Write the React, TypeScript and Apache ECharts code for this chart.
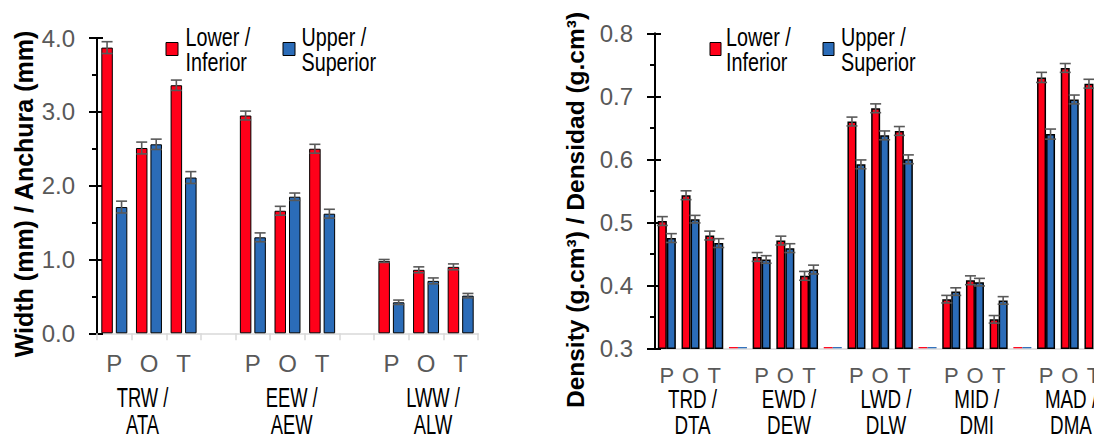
import React, { useEffect, useRef } from "react";
import * as echarts from "echarts";

// ---------- data ----------
const LOWER = "Lower /\nInferior";
const UPPER = "Upper /\nSuperior";

const leftCats = ["P", "O", "T", "", "P", "O", "T", "", "P", "O", "T"];
const leftLower = [3.87, 2.51, 3.36, null, 2.95, 1.66, 2.5, null, 0.98, 0.86, 0.9];
const leftUpper = [1.71, 2.56, 2.11, null, 1.3, 1.85, 1.62, null, 0.42, 0.71, 0.51];
const leftLowerErr = [0.08, 0.08, 0.07, null, 0.06, 0.06, 0.06, null, 0.02, 0.04, 0.04];
const leftUpperErr = [0.08, 0.07, 0.08, null, 0.06, 0.05, 0.06, null, 0.03, 0.04, 0.03];
const leftGroups = ["TRW /\nATA", "EEW /\nAEW", "LWW /\nALW"];
const leftTicks = [0, 1, 2, 3, 4];

const BLANK = "blank";
const blankValue = 0.302;
const rightCats = ["P", "O", "T", "", "P", "O", "T", "", "P", "O", "T", "", "P", "O", "T", "", "P", "O", "T"];
const rightLower = [0.502, 0.543, 0.479, BLANK, 0.445, 0.471, 0.415, BLANK, 0.66, 0.681, 0.645, BLANK, 0.378, 0.408, 0.346, BLANK, 0.73, 0.745, 0.72];
const rightUpper = [0.475, 0.505, 0.467, BLANK, 0.441, 0.459, 0.425, BLANK, 0.592, 0.638, 0.6, BLANK, 0.39, 0.405, 0.376, BLANK, 0.64, 0.695, null];
const rightLowerErr = [0.007, 0.007, 0.007, null, 0.007, 0.007, 0.007, null, 0.007, 0.007, 0.007, null, 0.006, 0.007, 0.006, null, 0.008, 0.007, 0.007];
const rightUpperErr = [0.007, 0.006, 0.007, null, 0.006, 0.007, 0.007, null, 0.007, 0.007, 0.007, null, 0.006, 0.006, 0.006, null, 0.008, 0.007, null];
const rightGroups = ["TRD /\nDTA", "EWD /\nDEW", "LWD /\nDLW", "MID /\nDMI", "MAD /\nDMA"];

// ---------- style ----------
const RED = "#ff0019";
const BLUE = "#2b6cb8";
const GREY = "#595959";
const ERR = "#595959";
const SANS = "'Liberation Sans', Arial, sans-serif";

function errRenderer(offset: number, halfCap: number) {
  return (params: any, api: any) => {
    const i = api.value(0);
    const m = api.value(1);
    const e = api.value(2);
    const top = api.coord([i, m + e]);
    const bot = api.coord([i, m - e]);
    const x = top[0] + offset;
    const style = { stroke: ERR, lineWidth: 1.6 };
    return {
      type: "group",
      children: [
        { type: "line", shape: { x1: x, y1: top[1], x2: x, y2: bot[1] }, style },
        { type: "line", shape: { x1: x - halfCap, y1: top[1], x2: x + halfCap, y2: top[1] }, style },
        { type: "line", shape: { x1: x - halfCap, y1: bot[1], x2: x + halfCap, y2: bot[1] }, style },
      ],
    };
  };
}

function errData(vals: any[], errs: any[]) {
  const out: any[] = [];
  vals.forEach((v, i) => {
    if (typeof v === "number" && typeof errs[i] === "number") out.push([i, v, errs[i]]);
  });
  return out;
}

function rightBarData(vals: any[]) {
  return vals.map((v) =>
    v === BLANK ? { value: blankValue, itemStyle: { borderWidth: 0 } } : v === null ? "-" : v
  );
}

function legendItem(x: number, w: number, textX: number, color: string, text: string) {
  return [
    {
      type: "rect",
      shape: { x, y: 42.5, width: w, height: 13 },
      style: { fill: color, stroke: "#000", lineWidth: 1 },
    },
    {
      type: "text",
      x: textX,
      y: 50,
      scaleX: 0.79,
      style: {
        text,
        fontFamily: SANS,
        fontSize: 25,
        lineHeight: 24.5,
        fill: "#000",
        align: "left",
        verticalAlign: "middle",
      },
    },
  ];
}

export default function App() {
  const ref = useRef<HTMLDivElement>(null);

  useEffect(() => {
    document.body.style.margin = "0";
    document.body.style.overflow = "hidden";
    document.documentElement.style.overflow = "hidden";
    const chart = echarts.init(ref.current!, null, { renderer: "svg" });

    const yMain = (gridIndex: number, min: number, max: number, interval: number) => ({
      type: "value",
      gridIndex,
      position: "left",
      min,
      max,
      interval,
      axisLine: { show: true, lineStyle: { color: "#000", width: 2 } },
      axisTick: { show: true, length: 8, lineStyle: { color: "#000", width: 2 } },
      minorTick: { show: true, splitNumber: 2, length: 5, lineStyle: { color: "#000", width: 2 } },
      splitLine: { show: false },
      axisLabel: {
        color: GREY,
        fontFamily: SANS,
        fontSize: 24,
        margin: 22,
        formatter: (v: number) => v.toFixed(1),
      },
    });
    const yOverlay = (gridIndex: number, min: number, max: number, interval: number) => ({
      type: "value",
      gridIndex,
      position: "left",
      offset: 0,
      min,
      max,
      interval,
      axisLine: { show: false },
      axisTick: { show: true, inside: true, length: 6, lineStyle: { color: "#000", width: 2 } },
      axisLabel: { show: false },
      splitLine: { show: false },
    });

    const leftGroupX = [142.5, 291.7, 433];
    const rightGroupX = [692.5, 789, 886, 976.7, 1071];

    const option: any = {
      animation: false,
      grid: [
        { left: 97, top: 38, width: 381, height: 295.3 },
        { left: 655, top: 33.3, width: 450.3, height: 315 },
      ],
      xAxis: [
        {
          type: "category",
          gridIndex: 0,
          data: leftCats,
          axisLine: { lineStyle: { color: "#d9d9d9", width: 1.5 } },
          axisTick: { show: true, interval: 0, length: 7, lineStyle: { color: "#d9d9d9", width: 1.5 } },
          axisLabel: { interval: 0, color: GREY, fontFamily: SANS, fontSize: 24, margin: 18 },
        },
        {
          type: "category",
          gridIndex: 1,
          data: rightCats,
          axisLine: { lineStyle: { color: "#d9d9d9", width: 1.5 } },
          axisTick: { show: false },
          axisLabel: { interval: 0, color: GREY, fontFamily: SANS, fontSize: 22, margin: 16 },
        },
      ],
      yAxis: [
        yMain(0, leftTicks[0], leftTicks[leftTicks.length - 1], 1),
        yOverlay(0, leftTicks[0], leftTicks[leftTicks.length - 1], 1),
        yMain(1, 0.3, 0.8, 0.1),
        yOverlay(1, 0.3, 0.8, 0.1),
      ],
      series: [
        {
          name: LOWER,
          type: "bar",
          xAxisIndex: 0,
          yAxisIndex: 0,
          data: leftLower.map((v) => (v === null ? "-" : v)),
          barWidth: 11.5,
          barGap: "26%",
          itemStyle: { color: RED, borderColor: "#000", borderWidth: 1 },
        },
        {
          name: UPPER,
          type: "bar",
          xAxisIndex: 0,
          yAxisIndex: 0,
          data: leftUpper.map((v) => (v === null ? "-" : v)),
          barWidth: 11.5,
          barGap: "26%",
          itemStyle: { color: BLUE, borderColor: "#000", borderWidth: 1 },
        },
        {
          name: LOWER,
          type: "bar",
          xAxisIndex: 1,
          yAxisIndex: 2,
          data: rightBarData(rightLower),
          barWidth: 9,
          barGap: "0%",
          itemStyle: { color: RED, borderColor: "#000", borderWidth: 1.5 },
        },
        {
          name: UPPER,
          type: "bar",
          xAxisIndex: 1,
          yAxisIndex: 2,
          data: rightBarData(rightUpper),
          barWidth: 9,
          barGap: "0%",
          itemStyle: { color: BLUE, borderColor: "#000", borderWidth: 1.5 },
        },
        {
          type: "custom",
          xAxisIndex: 0,
          yAxisIndex: 0,
          z: 5,
          renderItem: errRenderer(-7.25, 5.5),
          encode: { x: 0, y: 1 },
          data: errData(leftLower, leftLowerErr),
        },
        {
          type: "custom",
          xAxisIndex: 0,
          yAxisIndex: 0,
          z: 5,
          renderItem: errRenderer(7.25, 5.5),
          encode: { x: 0, y: 1 },
          data: errData(leftUpper, leftUpperErr),
        },
        {
          type: "custom",
          xAxisIndex: 1,
          yAxisIndex: 2,
          z: 5,
          renderItem: errRenderer(-4.5, 5.5),
          encode: { x: 0, y: 1 },
          data: errData(rightLower, rightLowerErr),
        },
        {
          type: "custom",
          xAxisIndex: 1,
          yAxisIndex: 2,
          z: 5,
          renderItem: errRenderer(4.5, 5.5),
          encode: { x: 0, y: 1 },
          data: errData(rightUpper, rightUpperErr),
        },
      ],
      graphic: [
        {
          type: "text",
          x: 24,
          y: 194,
          rotation: Math.PI / 2,
          style: {
            text: "Width (mm) / Anchura (mm)",
            fontFamily: SANS,
            fontWeight: "bold",
            fontSize: 25,
            fill: "#000",
            align: "center",
            verticalAlign: "middle",
          },
        },
        {
          type: "text",
          x: 575,
          y: 210,
          rotation: Math.PI / 2,
          style: {
            text: "Density (g.cm³) / Densidad (g.cm³)",
            fontFamily: SANS,
            fontWeight: "bold",
            fontSize: 24.5,
            fill: "#000",
            align: "center",
            verticalAlign: "middle",
          },
        },
        ...legendItem(166, 12, 185.5, RED, LOWER),
        ...legendItem(283, 12, 301.5, BLUE, UPPER),
        ...legendItem(710, 11, 726, RED, LOWER),
        ...legendItem(823, 11, 841, BLUE, UPPER),
        ...leftGroups.map((t, i) => ({
          type: "text",
          x: leftGroupX[i],
          y: 411,
          scaleX: 0.68,
          style: {
            text: t,
            fontFamily: SANS,
            fontSize: 27,
            lineHeight: 27,
            fill: "#000",
            align: "center",
            verticalAlign: "middle",
          },
        })),
        ...rightGroups.map((t, i) => ({
          type: "text",
          x: rightGroupX[i],
          y: 412,
          scaleX: 0.71,
          style: {
            text: t,
            fontFamily: SANS,
            fontSize: 26.5,
            lineHeight: 26,
            fill: "#000",
            align: "center",
            verticalAlign: "middle",
          },
        })),
      ],
    };

    chart.setOption(option);
    return () => chart.dispose();
  }, []);

  return <div ref={ref} style={{ width: 1110, height: 438, overflow: "hidden" }} />;
}
